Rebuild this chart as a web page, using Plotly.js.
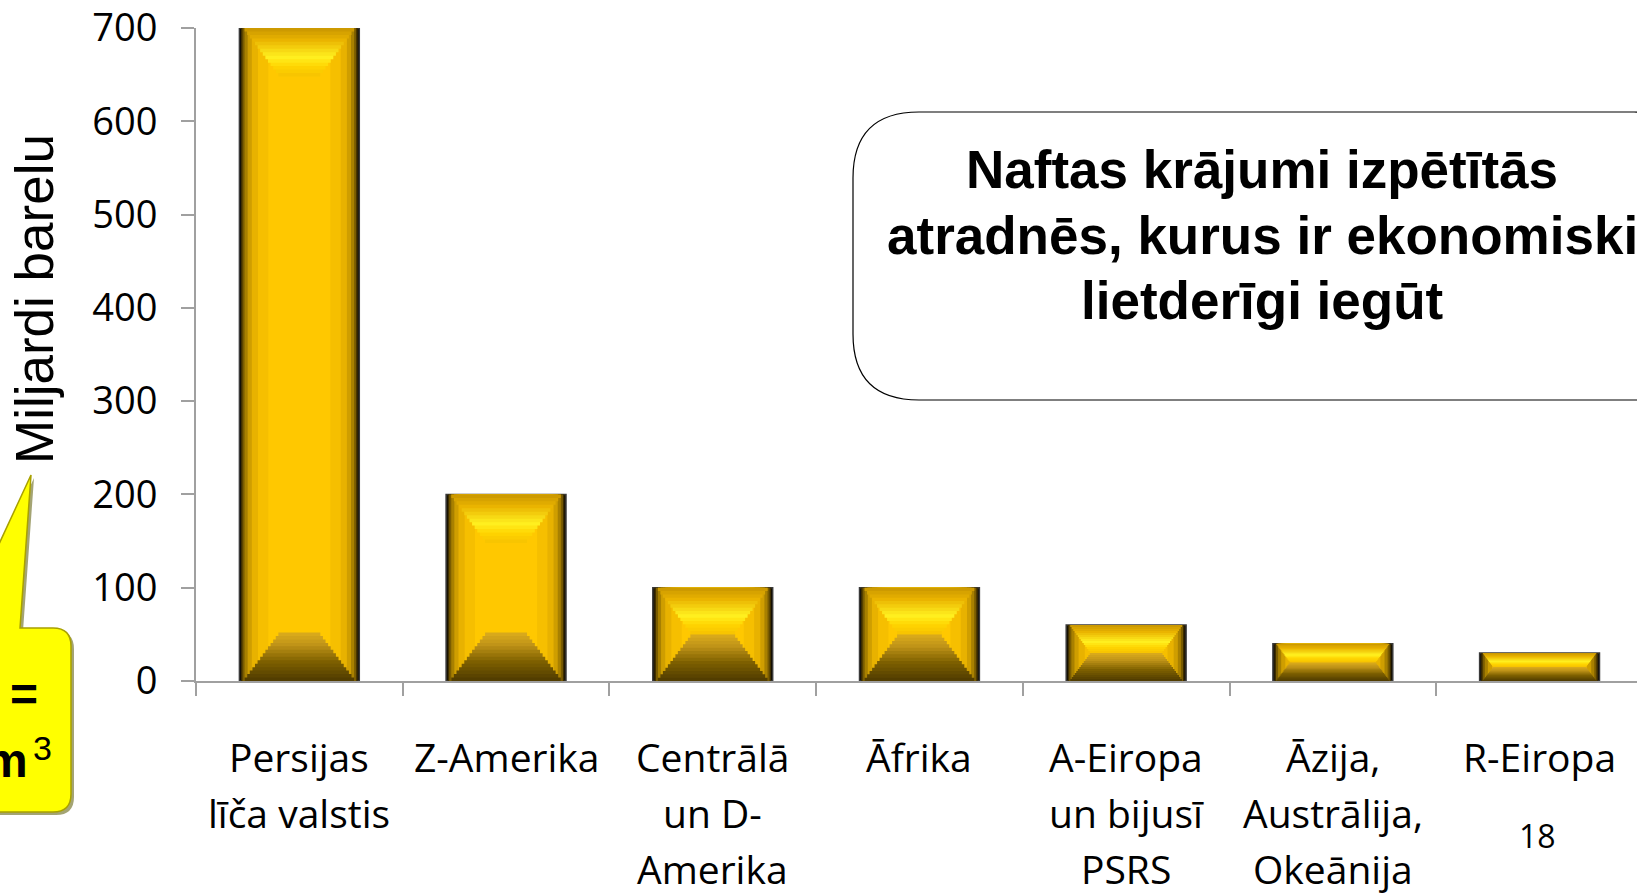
<!DOCTYPE html>
<html>
<head>
<meta charset="utf-8">
<script src="https://cdn.plot.ly/plotly-3.0.1.min.js"></script>
<style>html,body{margin:0;padding:0;background:#fff;}#chart{width:1637px;height:895px;}</style>
</head>
<body>
<div id="chart"></div>
<script>
// ---- data ----
const categories = [
  "Persijas<br>līča valstis",
  "Z-Amerika",
  "Centrālā<br>un D-<br>Amerika",
  "Āfrika",
  "A-Eiropa<br>un bijusī<br>PSRS",
  "Āzija,<br>Austrālija,<br>Okeānija",
  "R-Eiropa"
];
const reserves = [700, 200, 100, 100, 60, 40, 30];
const yTicks = [0, 100, 200, 300, 400, 500, 600, 700];
const titleLines = ["Naftas krājumi izpētītās", "atradnēs, kurus ir ekonomiski", "lietderīgi iegūt"];
const yTitle = "Miljardi barelu";
const pageNumber = "18";

// ---- geometry helpers (pixel -> paper) ----
const W = 1637, H = 895, L = 196, R = 0, T = 28, B = 214;
const pw = W - L - R, ph = H - T - B;
const catPx = 206.7;
const xSpan = pw / catPx;
const pxPerUnit = ph / 700;
const px = x => (x - L) / pw;
const py = y => (H - B - y) / ph;

// colour ramp helper (styling only)
function hex2rgb(h) { return [1, 3, 5].map(i => parseInt(h.substr(i, 2), 16)); }
function ramp(stops, t) {
  for (let i = 0; i < stops.length - 1; i++) {
    const [t0, c0] = stops[i], [t1, c1] = stops[i + 1];
    if (t <= t1) {
      const u = (t - t0) / (t1 - t0), a = hex2rgb(c0), b = hex2rgb(c1);
      return 'rgb(' + a.map((v, k) => Math.round(v + (b[k] - v) * u)).join(',') + ')';
    }
  }
  return stops[stops.length - 1][1];
}

const idx = categories.map((c, i) => i);
function barLayer(width, color, y, base, line) {
  return {
    type: 'bar', x: idx, y: y, base: base, width: width,
    marker: {color: color, line: line || {width: 0}},
    hoverinfo: 'skip', showlegend: false
  };
}
const BW = 0.58;   // outer bar width (category units)
const traces = [
  barLayer(BW, '#0c0800', reserves, undefined, {color: '#3a3a3a', width: 1.5}),
  barLayer(0.565, '#3e2e00', reserves),
  barLayer(0.55, '#7a5c00', reserves),
  barLayer(0.53, '#a88000', reserves),
  barLayer(0.50, '#cf9e00', reserves),
  barLayer(0.46, '#e8b200', reserves),
  barLayer(0.40, '#f6bf00', reserves),
  barLayer(0.30, '#ffc800', reserves),
];
// bevels: stepped trapezoids (narrow/tall first, wide/short last)
const bevel = reserves.map(v => Math.min(v / 2, 52));
const W0 = 0.555;
const nSteps = 14;
const bottomStops = [[0, '#4e3a00'], [0.4, '#7e6000'], [0.75, '#c09418'], [1, '#dcac1c']];
const topStops = [[0, '#c89600'], [0.25, '#eab400'], [0.6, '#fff020'], [0.8, '#ffd400'], [1, '#f6c200']];
for (let k = nSteps; k >= 1; k--) {
  const frac = k / nSteps;                 // height fraction of bevel
  const widths = bevel.map(b => W0 - 2 * 0.75 * (b * frac * pxPerUnit) / catPx);
  const hts = bevel.map(b => b * frac);
  const t = (k - 0.5) / nSteps;
  traces.push(barLayer(widths, ramp(bottomStops, t), hts, reserves.map(() => 0)));
  traces.push(barLayer(widths, ramp(topStops, t), hts, reserves.map((v, i) => v - hts[i])));
}

// rounded title box path
function roundRect(x0, y0, x1, y1, r) {
  const p = (x, y) => px(x) + ',' + py(y);
  return 'M' + p(x0 + r, y0) + ' L' + p(x1 - r, y0) + ' Q' + p(x1, y0) + ' ' + p(x1, y0 + r) +
    ' L' + p(x1, y1 - r) + ' Q' + p(x1, y1) + ' ' + p(x1 - r, y1) +
    ' L' + p(x0 + r, y1) + ' Q' + p(x0, y1) + ' ' + p(x0, y1 - r) +
    ' L' + p(x0, y0 + r) + ' Q' + p(x0, y0) + ' ' + p(x0 + r, y0) + ' Z';
}
function calloutPath(dx, dy) {
  const p = (x, y) => px(x + dx) + ',' + py(y + dy);
  return 'M' + p(-20, 585) + ' L' + p(31, 475) + ' L' + p(20, 628) + ' L' + p(53, 628) +
    ' Q' + p(71, 628) + ' ' + p(71, 646) + ' L' + p(71, 794) + ' Q' + p(71, 812) + ' ' + p(53, 812) +
    ' L' + p(-20, 812) + ' Z';
}

const annotations = [];
const titleFont = {family: 'Liberation Sans, Arial, sans-serif', size: 53, color: '#000'};
titleLines.forEach((t, i) => {
  annotations.push({text: '<b>' + t + '</b>', xref: 'paper', yref: 'paper', x: px(1262), y: py(170 + i * 65),
    xanchor: 'center', yanchor: 'middle', showarrow: false, font: titleFont});
});
// category labels, one annotation per line
const labelFont = {family: 'Open Sans, sans-serif', size: 39, color: '#000'};
categories.forEach((c, i) => {
  c.split('<br>').forEach((line, j) => {
    annotations.push({text: line, xref: 'x', yref: 'paper', x: i, y: py(756 + j * 56),
      xanchor: 'center', yanchor: 'middle', showarrow: false, font: labelFont});
  });
});
annotations.push({text: yTitle, xref: 'paper', yref: 'paper', x: px(34), y: py(299), textangle: -90,
  xanchor: 'center', yanchor: 'middle', showarrow: false,
  font: {family: 'Liberation Sans, Arial, sans-serif', size: 53, color: '#000'}});
annotations.push({text: pageNumber, xref: 'paper', yref: 'paper', x: px(1537), y: py(835),
  xanchor: 'center', yanchor: 'middle', showarrow: false,
  font: {family: 'Open Sans, sans-serif', size: 32, color: '#000'}});
annotations.push({text: '<b>=</b>', xref: 'paper', yref: 'paper', x: px(24), y: py(694),
  xanchor: 'center', yanchor: 'middle', showarrow: false,
  font: {family: 'Liberation Sans, Arial, sans-serif', size: 48, color: '#000'}});
annotations.push({text: '<b>m</b>', xref: 'paper', yref: 'paper', x: px(30), y: py(760),
  xanchor: 'right', yanchor: 'middle', showarrow: false,
  font: {family: 'Liberation Sans, Arial, sans-serif', size: 48, color: '#000'}});
annotations.push({text: '3', xref: 'paper', yref: 'paper', x: px(42), y: py(748),
  xanchor: 'center', yanchor: 'middle', showarrow: false,
  font: {family: 'Liberation Sans, Arial, sans-serif', size: 34, color: '#000'}});

const boundaries = idx.map(i => i - 0.5).concat([idx.length - 0.5]);

const layout = {
  width: W, height: H,
  margin: {l: L, r: R, t: T, b: B, pad: 0},
  paper_bgcolor: '#fff', plot_bgcolor: '#fff',
  barmode: 'overlay',
  showlegend: false,
  xaxis: {
    range: [-0.5, -0.5 + xSpan],
    tickmode: 'array', tickvals: boundaries, ticktext: boundaries.map(() => ''),
    ticks: 'outside', ticklen: 13, tickwidth: 2, tickcolor: '#a0a0a0',
    showline: true, linecolor: '#a0a0a0', linewidth: 2,
    showgrid: false, zeroline: false, fixedrange: true
  },
  yaxis: {
    range: [0, 700],
    tickmode: 'array', tickvals: yTicks, ticktext: yTicks.map(String),
    ticks: 'outside', ticklen: 13, tickwidth: 2, tickcolor: '#a0a0a0',
    showline: true, linecolor: '#a0a0a0', linewidth: 2,
    showgrid: false, zeroline: false, fixedrange: true,
    ticklabelstandoff: 16,
    tickfont: {family: 'Open Sans, sans-serif', size: 38, color: '#000'}
  },
  shapes: [
    {type: 'path', xref: 'paper', yref: 'paper', path: roundRect(853, 112, 1700, 400, 66),
      line: {color: '#000', width: 1.2}, fillcolor: 'rgba(255,255,255,0)', layer: 'above'},
    {type: 'path', xref: 'paper', yref: 'paper', path: calloutPath(3, 3),
      line: {width: 0}, fillcolor: 'rgba(90,90,0,0.55)', layer: 'above'},
    {type: 'path', xref: 'paper', yref: 'paper', path: calloutPath(0, 0),
      line: {color: '#a8a000', width: 1.5}, fillcolor: '#ffff00', layer: 'above'}
  ],
  annotations: annotations
};

Plotly.newPlot('chart', traces, layout, {displayModeBar: false, staticPlot: true});
</script>
</body>
</html>
